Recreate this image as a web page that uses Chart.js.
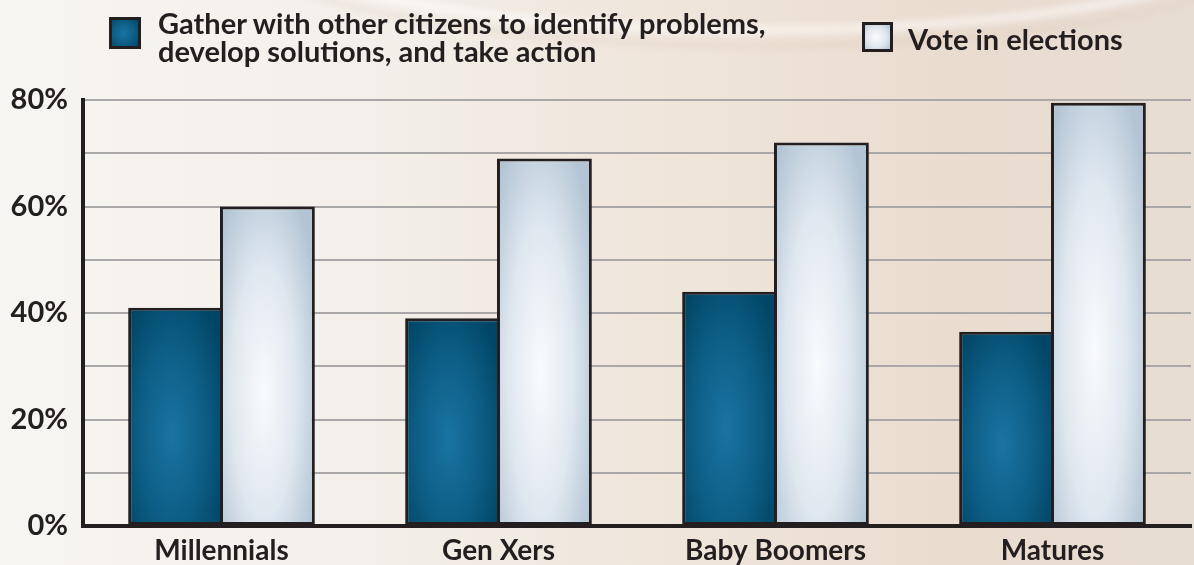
<!DOCTYPE html>
<html>
<head>
<meta charset="utf-8">
<title>Civic engagement by generation</title>
<script src="https://cdn.jsdelivr.net/npm/chart.js@4.4.1/dist/chart.umd.min.js"></script>
<style>
  html, body { margin: 0; padding: 0; }
  body { width: 1194px; height: 565px; overflow: hidden; font-family: Lato, "Open Sans", sans-serif; color: #231f20; }
  .wrap { position: relative; width: 1194px; height: 565px; }
  canvas { position: absolute; left: 0; top: 0; }
  .key { position: absolute; font-weight: 700; font-size: 29px; line-height: 28px; white-space: pre; }
  .swatch { position: absolute; box-sizing: border-box; border: 3px solid #231f20; }
</style>
</head>
<body>
<div class="wrap">
  <canvas id="chart" width="1194" height="565"></canvas>
  <div class="swatch" id="sw0" style="left:109px; top:17px; width:32px; height:32px;"></div>
  <div class="key" id="key0" style="left:158px; top:9px;"></div>
  <div class="swatch" id="sw1" style="left:862px; top:22px; width:31px; height:30px;"></div>
  <div class="key" id="key1" style="left:908px; top:25px;"></div>
</div>

<script>
// ---- Data ----
const generations = ['Millennials', 'Gen Xers', 'Baby Boomers', 'Matures'];
const gatherValues = [41, 39, 44, 36.5];
const voteValues = [60, 69, 72, 79.5];
const seriesNames = [
  'Gather with other citizens to identify problems,\ndevelop solutions, and take action',
  'Vote in elections'
];
const labelledTicks = [0, 20, 40, 60, 80];

const INK = '#231f20';
const CATEGORY_PCT = 0.663;
const BAR_PCT = 1.033; // slight overlap so neighbouring bars share one outline

// inner / middle / outer colours of the bar shading
const darkShade = ['#1a74a2', '#0d5e86', '#014666'];
const lightShade = ['#f9fbfd', '#dfe7ef', '#b3c5d5'];

// ---- Legend (html) ----
document.getElementById('key0').textContent = seriesNames[0];
document.getElementById('key1').textContent = seriesNames[1];
document.getElementById('sw0').style.background =
  `radial-gradient(circle at 45% 50%, ${darkShade[0]}, ${darkShade[1]} 55%, ${darkShade[2]})`;
document.getElementById('sw1').style.background =
  `radial-gradient(circle at 45% 50%, ${lightShade[0]}, ${lightShade[1]} 55%, ${lightShade[2]})`;

// ---- Bar shading ----
// Each dataset gets one canvas-sized pattern with an elliptical glow per bar,
// laid out from the chart's own scales.
const shadeCache = {};

function barShade(ctx, shade) {
  const chart = ctx.chart;
  const xs = chart.scales.x;
  const ys = chart.scales.y;
  if (!xs || !ys || !chart.chartArea) return shade[1];

  const key = [ctx.datasetIndex, xs.left, xs.right, ys.top, ys.bottom].join(':');
  if (shadeCache[key]) return shadeCache[key];

  const values = chart.data.datasets[ctx.datasetIndex].data;
  const nSets = chart.data.datasets.length;
  const group = (xs.right - xs.left) / chart.data.labels.length * CATEGORY_PCT;
  const slot = group / nSets;
  const barW = slot * BAR_PCT;
  const base = ys.getPixelForValue(0);

  const c = document.createElement('canvas');
  c.width = chart.width;
  c.height = chart.height;
  const g = c.getContext('2d');

  values.forEach((v, i) => {
    const mid = xs.getPixelForValue(i) - group / 2 + slot * (ctx.datasetIndex + 0.5);
    const left = mid - barW / 2;
    const top = ys.getPixelForValue(v);
    const h = base - top;
    const rx = barW * 0.62;
    const ry = h * 0.72;

    g.save();
    g.beginPath();
    g.rect(left, top, barW, h);
    g.clip();
    g.translate(left + barW * 0.46, base - h * 0.42);
    g.scale(1, ry / rx);
    const grad = g.createRadialGradient(0, 0, 0, 0, 0, rx);
    grad.addColorStop(0, shade[0]);
    grad.addColorStop(0.55, shade[1]);
    grad.addColorStop(1, shade[2]);
    g.fillStyle = grad;
    g.fillRect(-3000, -3000, 6000, 6000);
    g.restore();
  });

  shadeCache[key] = chart.ctx.createPattern(c, 'no-repeat');
  return shadeCache[key];
}

// ---- Backdrop ----
const backdrop = {
  id: 'backdrop',
  beforeDraw(chart) {
    const { ctx, width, height } = chart;
    ctx.save();
    const bg = ctx.createLinearGradient(0, 0, width, 0);
    bg.addColorStop(0, '#f7f5f2');
    bg.addColorStop(0.3, '#f4efea');
    bg.addColorStop(0.6, '#eee4d9');
    bg.addColorStop(0.8, '#eadccf');
    bg.addColorStop(1, '#e7ddd3');
    ctx.fillStyle = bg;
    ctx.fillRect(0, 0, width, height);

    // soft light swoosh along the top
    ctx.filter = 'blur(3px)';
    ctx.strokeStyle = 'rgba(255, 255, 255, 0.5)';
    ctx.lineWidth = 9;
    ctx.beginPath();
    ctx.ellipse(760, -65, 500, 95, 0, 0, Math.PI);
    ctx.stroke();
    ctx.strokeStyle = 'rgba(214, 190, 170, 0.25)';
    ctx.lineWidth = 5;
    ctx.beginPath();
    ctx.ellipse(760, -58, 520, 104, 0, 0, Math.PI);
    ctx.stroke();
    ctx.restore();
  }
};

// ---- Chart ----
new Chart(document.getElementById('chart').getContext('2d'), {
  type: 'bar',
  data: {
    labels: generations,
    datasets: [
      {
        label: seriesNames[0],
        data: gatherValues,
        backgroundColor: ctx => barShade(ctx, darkShade),
        borderColor: INK,
        borderWidth: 3,
        borderSkipped: false
      },
      {
        label: seriesNames[1],
        data: voteValues,
        backgroundColor: ctx => barShade(ctx, lightShade),
        borderColor: INK,
        borderWidth: 3,
        borderSkipped: false
      }
    ]
  },
  options: {
    responsive: false,
    devicePixelRatio: 1,
    animation: false,
    events: [],
    layout: { padding: { top: 100, right: 3, left: 0, bottom: 0 } },
    datasets: {
      bar: { categoryPercentage: CATEGORY_PCT, barPercentage: BAR_PCT }
    },
    plugins: {
      legend: { display: false },
      tooltip: { enabled: false }
    },
    scales: {
      x: {
        grid: { display: false, drawTicks: false },
        border: { color: INK, width: 4 },
        ticks: {
          color: INK,
          padding: 8,
          font: { family: 'Lato', weight: '700', size: 28 }
        },
        afterFit: scale => { scale.height = 39; }
      },
      y: {
        min: 0,
        max: 80,
        grid: { color: '#a9a7a8', lineWidth: 2, drawTicks: false },
        border: { color: INK, width: 4 },
        ticks: {
          stepSize: 10,
          color: INK,
          padding: 15,
          font: { family: 'Lato', weight: '700', size: 29 },
          callback: v => labelledTicks.includes(v) ? v + '%' : ''
        },
        afterFit: scale => { scale.width = 83; }
      }
    }
  },
  plugins: [backdrop]
});
</script>
</body>
</html>
